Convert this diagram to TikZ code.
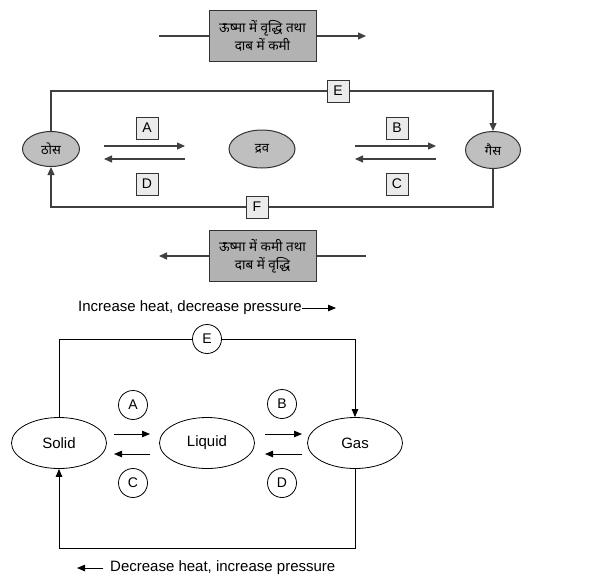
\documentclass[tikz,border=0pt]{standalone}
\usepackage{fontspec}
\setmainfont{Liberation Sans}
\newfontfamily\hindi[Script=Devanagari]{Noto Sans}
\usetikzlibrary{arrows.meta,shapes.geometric}
\tikzset{
  hbx/.style={rectangle,draw=black!80,fill=black!30,line width=1pt,minimum width=107pt,minimum height=51pt,inner sep=0pt,align=center,font=\hindi\fontsize{13.5}{18}\selectfont},
  hst/.style={ellipse,draw=black!80,fill=black!25,line width=1pt,inner sep=0pt,font=\hindi\fontsize{13}{15}\selectfont},
  lbx/.style={rectangle,draw=black!80,fill=black!8,line width=1pt,minimum size=22pt,inner sep=0pt,font=\fontsize{14}{14}\selectfont},
  hln/.style={draw=black!75,line width=1.2pt},
  har/.style={hln,-{Triangle[length=8pt,width=7pt]}},
  est/.style={ellipse,draw=black,line width=.8pt,minimum width=95pt,minimum height=51pt,inner sep=0pt,font=\fontsize{15}{18}\selectfont},
  ecr/.style={circle,draw=black,line width=.8pt,minimum size=29pt,inner sep=0pt,font=\fontsize{14}{14}\selectfont},
  eln/.style={draw=black,line width=.8pt},
  ear/.style={eln,-{Triangle[length=8pt,width=6.5pt]}},
  etx/.style={font=\fontsize{15}{18}\selectfont,inner sep=0pt},
}
\begin{document}
\begin{tikzpicture}[x=1pt,y=-1pt]
\useasboundingbox (0,0) rectangle (601,579);
% Hindi version
\node[hbx] (up) at (262.5,36) {ऊष्मा में वृद्धि तथा\\दाब में कमी};
\coordinate (up1) at (159,36); \coordinate (up2) at (366,36);
\draw[hln] (up1)--(up.west);
\draw[har] (up.east)--(up2);
\node[hst,minimum width=57pt,minimum height=35pt] (sol) at (51,149) {ठोस};
\node[hst,minimum width=66pt,minimum height=38pt] (liq) at (262,149) {द्रव};
\node[hst,minimum width=55pt,minimum height=37pt] (gas) at (493,150) {गैस};
\node[lbx] (hE) at (338,91) {E};
\node[lbx] (hF) at (257,207) {F};
\draw[hln] (sol.north)|-(hE);
\draw[har] (hE)-|(gas.north);
\draw[hln] (gas.south)|-(hF);
\draw[har] (hF)-|(sol.south);
\node[lbx] (hA) at (147,128) {A};
\node[lbx] (hD) at (147,184) {D};
\node[lbx] (hB) at (397,128) {B};
\node[lbx] (hC) at (397,184) {C};
\coordinate (a1) at (104,146); \coordinate (a2) at (185,146);
\coordinate (d1) at (185,159); \coordinate (d2) at (104,159);
\coordinate (b1) at (355,146); \coordinate (b2) at (436,146);
\coordinate (c1) at (436,159); \coordinate (c2) at (355,159);
\draw[har] (a1)--(a2);
\draw[har] (d1)--(d2);
\draw[har] (b1)--(b2);
\draw[har] (c1)--(c2);
\node[hbx] (dn) at (262.5,256) {ऊष्मा में कमी तथा\\दाब में वृद्धि};
\coordinate (dn1) at (366,256); \coordinate (dn2) at (159,256);
\draw[hln] (dn1)--(dn.east);
\draw[har] (dn.west)--(dn2);
% English version
\node[etx,anchor=west] (inc) at (78,308) {Increase heat, decrease pressure};
\coordinate (inc1) at (336,308);
\draw[ear] (inc.east)--(inc1);
\node[est] (solid) at (59,443) {Solid};
\node[est] (liquid) at (207,443) {Liquid};
\node[est] (gas2) at (355,443) {Gas};
\node[ecr] (eE) at (207,339) {E};
\draw[eln] (solid.north)|-(eE);
\draw[ear] (eE)-|(gas2.north);
\coordinate (bot) at (207,548);
\draw[eln] (gas2.south)|-(bot);
\draw[ear] (bot)-|(solid.south);
\node[ecr] (eA) at (133,405) {A};
\node[ecr] (eC) at (133,483) {C};
\node[ecr] (eB) at (282,404) {B};
\node[ecr] (eD) at (282,483) {D};
\coordinate (ea1) at (114,434); \coordinate (ea2) at (150,434);
\coordinate (ec1) at (150,454); \coordinate (ec2) at (114,454);
\coordinate (eb1) at (265,434); \coordinate (eb2) at (302,434);
\coordinate (ed1) at (302,454); \coordinate (ed2) at (265,454);
\draw[ear] (ea1)--(ea2);
\draw[ear] (ec1)--(ec2);
\draw[ear] (eb1)--(eb2);
\draw[ear] (ed1)--(ed2);
\node[etx,anchor=west] (dec) at (110,568) {Decrease heat, increase pressure};
\coordinate (dec1) at (77,568);
\draw[ear] (dec.west)++(-7,0)--(dec1);
\end{tikzpicture}
\end{document}
